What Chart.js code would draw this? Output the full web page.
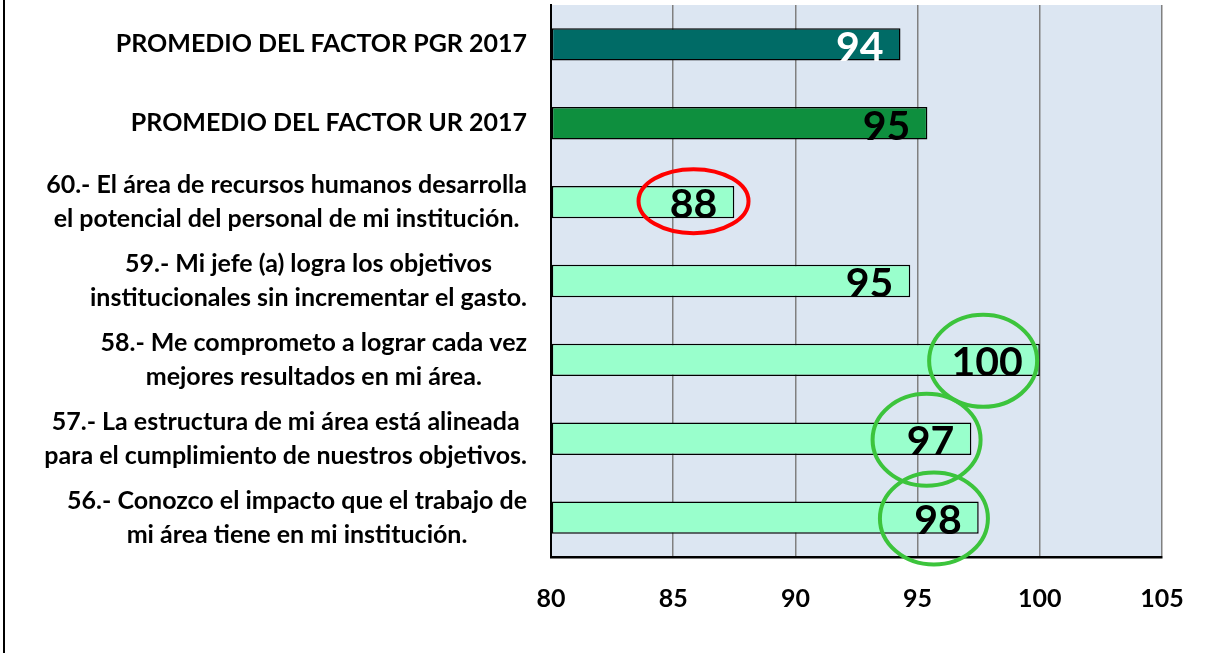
<!DOCTYPE html>
<html>
<head>
<meta charset="utf-8">
<script src="https://cdn.jsdelivr.net/npm/chart.js@4/dist/chart.umd.min.js"></script>
<style>
  html, body { margin: 0; padding: 0; background: #ffffff; }
  #wrap { width: 1208px; height: 653px; position: relative; }
</style>
</head>
<body>
<div id="wrap"><canvas id="c" width="1208" height="653"></canvas></div>
<script>
// ---- data ----
const categories = [
  ["PROMEDIO DEL FACTOR PGR 2017"],
  ["PROMEDIO DEL FACTOR UR 2017"],
  ["60.- El área de recursos humanos desarrolla", "el potencial del personal de mi institución."],
  ["59.- Mi jefe (a) logra los objetivos", "institucionales sin incrementar el gasto."],
  ["58.- Me comprometo a lograr cada vez", "mejores resultados en mi área."],
  ["57.- La estructura de mi área está alineada", "para el cumplimiento de nuestros objetivos."],
  ["56.- Conozco el impacto que el trabajo de", "mi área tiene en mi institución."]
];
const values = [94.3, 95.4, 87.5, 94.7, 100, 97.2, 97.5];
const xTicks = [80, 85, 90, 95, 100, 105];
const lowHighlights = [2];        // red ellipse
const highHighlights = [4, 5, 6]; // green ellipses

// ---- styles ----
const barColors = ['#006b66', '#0e8f3e', '#99ffcc', '#99ffcc', '#99ffcc', '#99ffcc', '#99ffcc'];
const labelColors = ['#ffffff', '#000000', '#000000', '#000000', '#000000', '#000000', '#000000'];
const FONT = 'Lato, "Open Sans", sans-serif';

const decorPlugin = {
  id: 'decor',
  beforeDraw(chart) {
    const ctx = chart.ctx;
    ctx.save();
    ctx.fillStyle = '#ffffff';
    ctx.fillRect(0, 0, chart.width, chart.height);
    // left frame line
    ctx.strokeStyle = '#000000';
    ctx.lineWidth = 2;
    ctx.beginPath();
    ctx.moveTo(4, 0);
    ctx.lineTo(4, chart.height);
    ctx.stroke();
    // plot background
    const a = chart.chartArea;
    ctx.fillStyle = '#dce6f2';
    ctx.fillRect(a.left, a.top, a.right - a.left, a.bottom - a.top);
    ctx.restore();
  },
  afterDraw(chart) {
    const ctx = chart.ctx;
    const yScale = chart.scales.y;
    const meta = chart.getDatasetMeta(0);
    ctx.save();
    // category labels: block right-aligned, lines centered within block
    ctx.font = 'bold 25px ' + FONT;
    ctx.fillStyle = '#000000';
    ctx.textAlign = 'center';
    ctx.textBaseline = 'middle';
    const rightEdge = 527;
    const lineH = 34;
    categories.forEach((lines, i) => {
      const yc = yScale.getPixelForValue(i);
      let widest = 0;
      lines.forEach(l => { widest = Math.max(widest, ctx.measureText(l).width); });
      const cx = rightEdge - widest / 2;
      const y0 = yc - (lines.length - 1) * lineH / 2;
      lines.forEach((l, k) => ctx.fillText(l, cx, y0 + k * lineH));
    });
    // value labels
    ctx.font = 'bold 41px ' + FONT;
    ctx.textAlign = 'right';
    ctx.textBaseline = 'middle';
    const centers = [];
    meta.data.forEach((bar, i) => {
      const txt = String(Math.round(values[i]));
      const xr = bar.x - 17;
      const w = ctx.measureText(txt).width;
      ctx.fillStyle = labelColors[i];
      ctx.fillText(txt, xr, bar.y + 3);
      centers.push({ x: xr - w / 2, y: bar.y });
    });
    // highlight ellipses
    ctx.lineWidth = 4;
    lowHighlights.forEach(i => {
      ctx.strokeStyle = '#ff0000';
      ctx.beginPath();
      ctx.ellipse(centers[i].x, centers[i].y - 1, 55, 32, 0, 0, Math.PI * 2);
      ctx.stroke();
    });
    highHighlights.forEach(i => {
      ctx.strokeStyle = '#3cc43c';
      ctx.beginPath();
      ctx.ellipse(centers[i].x - 4, centers[i].y + 1, 54, 46, 0, 0, Math.PI * 2);
      ctx.stroke();
    });
    ctx.restore();
  }
};

new Chart(document.getElementById('c'), {
  type: 'bar',
  data: {
    labels: categories,
    datasets: [{
      data: values,
      base: 80,
      backgroundColor: barColors,
      borderColor: '#000000',
      borderWidth: 1.5,
      borderSkipped: false,
      categoryPercentage: 1,
      barPercentage: 0.41
    }]
  },
  options: {
    indexAxis: 'y',
    responsive: false,
    animation: false,
    devicePixelRatio: 1,
    layout: { padding: { left: 551, right: 46, top: 5, bottom: 12 } },
    plugins: { legend: { display: false }, tooltip: { enabled: false } },
    scales: {
      x: {
        min: 80, max: 105,
        afterBuildTicks(scale) { scale.ticks = xTicks.map(v => ({ value: v })); },
        afterFit(scale) { scale.paddingRight = 0; scale.paddingLeft = 0; },
        grid: { color: '#808080', lineWidth: 1.5, drawTicks: false },
        border: { color: '#000000', width: 2.5 },
        ticks: { padding: 27, color: '#000000', font: { family: FONT, weight: 'bold', size: 25 } }
      },
      y: {
        ticks: { display: false },
        grid: { display: false, drawTicks: false },
        border: { color: '#000000', width: 2 }
      }
    }
  },
  plugins: [decorPlugin]
});
</script>
</body>
</html>
